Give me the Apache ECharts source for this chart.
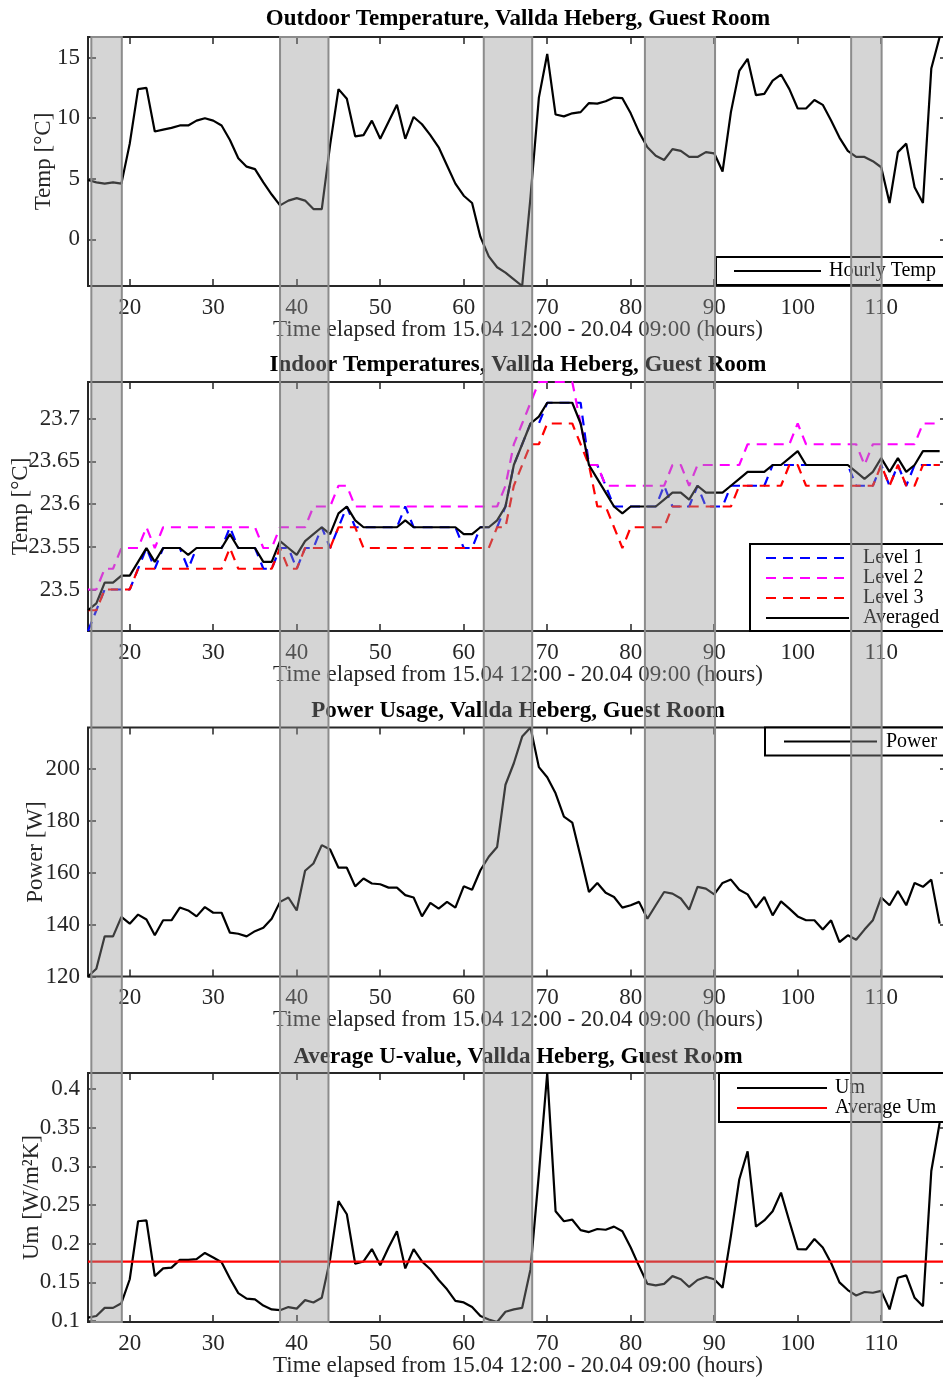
<!DOCTYPE html>
<html>
<head>
<meta charset="utf-8">
<script src="https://cdn.jsdelivr.net/npm/echarts@6/dist/echarts.min.js"></script>
<style>
  html, body { margin: 0; padding: 0; background: #fff; }
  #chart { width: 943px; height: 1382px; }
</style>
</head>
<body>
<div id="chart"></div>
<script>
// Hourly samples, hours elapsed since 15.04 12:00
const HOURS = Array.from({ length: 103 }, (_, i) => 15 + i);

const X_TICKS = [20, 30, 40, 50, 60, 70, 80, 90, 100, 110];
const X_NAME = 'Time elapsed from 15.04 12:00 - 20.04 09:00 (hours)';

// Outdoor temperature [°C]
const OUTDOOR_TEMP = [
  4.9, 4.7, 4.6, 4.7, 4.6, 7.9, 12.4, 12.5, 8.9, 9.05,
  9.2, 9.4, 9.4, 9.8, 10.0, 9.8, 9.4, 8.2, 6.7, 6.0,
  5.8, 4.7, 3.7, 2.8, 3.2, 3.4, 3.2, 2.5, 2.5, 7.8,
  12.4, 11.6, 8.5, 8.6, 9.8, 8.3, 9.7, 11.1, 8.3, 10.1,
  9.5, 8.6, 7.6, 6.1, 4.6, 3.6, 3.0, 0.2, -1.4, -2.3,
  -2.75, -3.3, -3.85, 3.5, 11.7, 15.3, 10.3, 10.15, 10.4, 10.5,
  11.25, 11.2, 11.4, 11.7, 11.65, 10.4, 8.85, 7.6, 6.9, 6.55,
  7.45, 7.3, 6.8, 6.8, 7.2, 7.1, 5.6, 10.5, 13.9, 14.9,
  11.9, 12.0, 13.1, 13.6, 12.4, 10.8, 10.8, 11.5, 11.1, 9.8,
  8.4, 7.3, 6.8, 6.8, 6.45, 5.95, 3.0, 7.2, 7.9, 4.3,
  3.0, 14.1, 16.7
];
const OUTDOOR_TICKS = [0, 5, 10, 15];

// Indoor temperatures [°C] per level
const LEVEL_1 = [
  23.4514, 23.4757, 23.5, 23.5, 23.5, 23.5, 23.5243, 23.5486, 23.5243, 23.5486,
  23.5486, 23.5486, 23.5243, 23.5486, 23.5486, 23.5486, 23.5486, 23.5729, 23.5486, 23.5486,
  23.5486, 23.5243, 23.5243, 23.5486, 23.5486, 23.5243, 23.5486, 23.5486, 23.5729, 23.5486,
  23.5729, 23.5972, 23.5729, 23.5729, 23.5729, 23.5729, 23.5729, 23.5729, 23.5972, 23.5729,
  23.5729, 23.5729, 23.5729, 23.5729, 23.5729, 23.5486, 23.5486, 23.5729, 23.5729, 23.5729,
  23.5972, 23.6458, 23.6701, 23.6944, 23.6944, 23.7187, 23.7187, 23.7187, 23.7187, 23.7187,
  23.6458, 23.6458, 23.6215, 23.5972, 23.5972, 23.5972, 23.5972, 23.5972, 23.5972, 23.6215,
  23.5972, 23.5972, 23.5972, 23.6215, 23.5972, 23.5972, 23.5972, 23.6215, 23.6215, 23.6215,
  23.6215, 23.6215, 23.6458, 23.6458, 23.6458, 23.6458, 23.6458, 23.6458, 23.6458, 23.6458,
  23.6458, 23.6458, 23.6215, 23.6215, 23.6215, 23.6458, 23.6215, 23.6458, 23.6215, 23.6458,
  23.6458, 23.6458, 23.6458
];
const LEVEL_2 = [
  23.5, 23.5, 23.5243, 23.5243, 23.5486, 23.5486, 23.5486, 23.5729, 23.5486, 23.5729,
  23.5729, 23.5729, 23.5729, 23.5729, 23.5729, 23.5729, 23.5729, 23.5729, 23.5729, 23.5729,
  23.5729, 23.5486, 23.5486, 23.5729, 23.5729, 23.5729, 23.5729, 23.5972, 23.5972, 23.5972,
  23.6215, 23.6215, 23.5972, 23.5972, 23.5972, 23.5972, 23.5972, 23.5972, 23.5972, 23.5972,
  23.5972, 23.5972, 23.5972, 23.5972, 23.5972, 23.5972, 23.5972, 23.5972, 23.5972, 23.5972,
  23.6215, 23.6701, 23.6944, 23.7187, 23.743, 23.743, 23.743, 23.743, 23.743, 23.6944,
  23.6458, 23.6458, 23.6215, 23.6215, 23.6215, 23.6215, 23.6215, 23.6215, 23.6215, 23.6215,
  23.6458, 23.6458, 23.6215, 23.6458, 23.6458, 23.6458, 23.6458, 23.6458, 23.6458, 23.6701,
  23.6701, 23.6701, 23.6701, 23.6701, 23.6701, 23.6944, 23.6701, 23.6701, 23.6701, 23.6701,
  23.6701, 23.6701, 23.6701, 23.6458, 23.6701, 23.6701, 23.6701, 23.6701, 23.6701, 23.6701,
  23.6944, 23.6944, 23.6944
];
const LEVEL_3 = [
  23.4757, 23.4757, 23.5, 23.5, 23.5, 23.5, 23.5243, 23.5243, 23.5243, 23.5243,
  23.5243, 23.5243, 23.5243, 23.5243, 23.5243, 23.5243, 23.5243, 23.5486, 23.5243, 23.5243,
  23.5243, 23.5243, 23.5243, 23.5486, 23.5243, 23.5243, 23.5486, 23.5486, 23.5486, 23.5486,
  23.5729, 23.5729, 23.5729, 23.5486, 23.5486, 23.5486, 23.5486, 23.5486, 23.5486, 23.5486,
  23.5486, 23.5486, 23.5486, 23.5486, 23.5486, 23.5486, 23.5486, 23.5486, 23.5486, 23.5729,
  23.5729, 23.6215, 23.6458, 23.6701, 23.6701, 23.6944, 23.6944, 23.6944, 23.6944, 23.6701,
  23.6458, 23.5972, 23.5972, 23.5729, 23.5486, 23.5729, 23.5729, 23.5729, 23.5729, 23.5729,
  23.5972, 23.5972, 23.5972, 23.5972, 23.5972, 23.5972, 23.5972, 23.5972, 23.6215, 23.6215,
  23.6215, 23.6215, 23.6215, 23.6215, 23.6458, 23.6458, 23.6215, 23.6215, 23.6215, 23.6215,
  23.6215, 23.6215, 23.6215, 23.6215, 23.6215, 23.6458, 23.6215, 23.6458, 23.6215, 23.6215,
  23.6458, 23.6458, 23.6458
];
const LEVEL_AVG = [
  23.4757, 23.4838, 23.5081, 23.5081, 23.5162, 23.5162, 23.5324, 23.5486, 23.5324, 23.5486,
  23.5486, 23.5486, 23.5405, 23.5486, 23.5486, 23.5486, 23.5486, 23.5648, 23.5486, 23.5486,
  23.5486, 23.5324, 23.5324, 23.5567, 23.5486, 23.5405, 23.5567, 23.5648, 23.5729, 23.5648,
  23.5891, 23.5972, 23.581, 23.5729, 23.5729, 23.5729, 23.5729, 23.5729, 23.581, 23.5729,
  23.5729, 23.5729, 23.5729, 23.5729, 23.5729, 23.5648, 23.5648, 23.5729, 23.5729, 23.581,
  23.5972, 23.6458, 23.6701, 23.6944, 23.7025, 23.7187, 23.7187, 23.7187, 23.7187, 23.6944,
  23.6458, 23.6296, 23.6134, 23.5972, 23.5891, 23.5972, 23.5972, 23.5972, 23.5972, 23.6053,
  23.6134, 23.6134, 23.6053, 23.6215, 23.6134, 23.6134, 23.6134, 23.6215, 23.6296, 23.6377,
  23.6377, 23.6377, 23.6458, 23.6458, 23.6539, 23.662, 23.6458, 23.6458, 23.6458, 23.6458,
  23.6458, 23.6458, 23.6377, 23.6296, 23.6377, 23.6539, 23.6377, 23.6539, 23.6377, 23.6458,
  23.662, 23.662, 23.662
];
const INDOOR_TICKS = [23.5, 23.55, 23.6, 23.65, 23.7];

// Heating power [W]
const POWER = [
  120, 123, 135.5, 135.5, 143, 140.4, 143.9, 142, 135.9, 141.7,
  141.7, 146.6, 145.5, 143.2, 146.8, 144.6, 144.6, 136.9, 136.5, 135.5,
  137.5, 138.8, 142.3, 148.8, 150.5, 145.5, 160.8, 163.6, 170.7, 169,
  162, 162, 154.8, 157.8, 155.9, 155.6, 154.3, 154.3, 151.4, 150.5,
  143.2, 148.4, 146.2, 148.8, 146.6, 154.8, 153.5, 161, 166.2, 170,
  194, 202.3, 212.6, 216.1, 200.8, 196.9, 190.7, 181.7, 179.4, 166.2,
  152.6, 156.1, 152.3, 150.7, 146.6, 147.5, 148.8, 142.3, 147.5, 152.6,
  152, 150.1, 145.8, 154.6, 153.9, 151.7, 156.1, 157.4, 153.5, 151.7,
  146.6, 150.7, 143.6, 149, 146.2, 143.2, 141.7, 141.7, 138.1, 141.7,
  133.3, 135.9, 134.2, 138.1, 141.7, 150.5, 147.5, 153, 147.5, 156.1,
  154.6, 157.4, 140.4
];
const POWER_TICKS = [120, 140, 160, 180, 200];

// Average U-value [W/m²K]
const UM = [
  0.1043, 0.1065, 0.117, 0.117, 0.123, 0.154, 0.229, 0.230, 0.158, 0.168,
  0.169, 0.179, 0.179, 0.180, 0.188, 0.182, 0.176, 0.155, 0.136, 0.129,
  0.128, 0.120, 0.115, 0.114, 0.118, 0.116, 0.127, 0.124, 0.130, 0.180,
  0.255, 0.238, 0.174, 0.177, 0.193, 0.172, 0.195, 0.216, 0.168, 0.193,
  0.177, 0.167, 0.153, 0.141, 0.126, 0.124, 0.118, 0.1065, 0.102, 0.0987,
  0.112, 0.115, 0.117, 0.167, 0.29, 0.4207, 0.242, 0.229, 0.231, 0.2175,
  0.215, 0.219, 0.218, 0.222, 0.216, 0.195, 0.171, 0.148, 0.146, 0.148,
  0.158, 0.154, 0.144, 0.153, 0.157, 0.154, 0.143, 0.21, 0.283, 0.3195,
  0.222, 0.230, 0.242, 0.266, 0.229, 0.193, 0.1925, 0.206, 0.195, 0.175,
  0.150, 0.140, 0.133, 0.1375, 0.1365, 0.139, 0.115, 0.156, 0.159, 0.130,
  0.119, 0.294, 0.356
];
const AVERAGE_UM = 0.1767;
const UM_TICKS = [0.1, 0.15, 0.2, 0.25, 0.3, 0.35, 0.4];

// Shaded periods [start hour, end hour]
const SHADED_PERIODS = [
  [15.4, 19.05],
  [38.0, 43.8],
  [62.4, 68.2],
  [81.7, 90.1],
  [106.4, 110.05]
];

const X_MIN = 15, X_MAX = 118;
const FONT = 'Liberation Serif';
const AXIS_COLOR = '#262626';
const GRID_LEFT = 88, GRID_WIDTH = 860, GRID_HEIGHT = 249;
const PANEL_TOPS = [37, 382, 727.5, 1073];

const pairs = (vals) => HOURS.map((h, i) => [h, vals[i]]);
const minOf = (...arrs) => Math.min(...arrs.flat());
const maxOf = (...arrs) => Math.max(...arrs.flat());

const tickLabelStyle = { fontFamily: FONT, fontSize: 23, color: AXIS_COLOR };
const nameStyle = { fontFamily: FONT, fontSize: 23, color: AXIS_COLOR };

const grids = PANEL_TOPS.map(top => ({
  left: GRID_LEFT, top: top, width: GRID_WIDTH, height: GRID_HEIGHT,
  outerBoundsMode: 'none', containLabel: false,
  show: true, borderColor: AXIS_COLOR, borderWidth: 2, backgroundColor: 'transparent'
}));
// full-height strip for the shaded periods
grids.push({ left: GRID_LEFT, top: PANEL_TOPS[0], width: GRID_WIDTH,
  height: PANEL_TOPS[3] + GRID_HEIGHT - PANEL_TOPS[0], outerBoundsMode: 'none', show: false });

const xAxes = [];
const yAxes = [];
const panels = [
  { yMin: minOf(OUTDOOR_TEMP), yMax: maxOf(OUTDOOR_TEMP), ticks: OUTDOOR_TICKS, name: 'Temp [°C]', gap: 33 },
  { yMin: minOf(LEVEL_1, LEVEL_2, LEVEL_3, LEVEL_AVG), yMax: maxOf(LEVEL_1, LEVEL_2, LEVEL_3, LEVEL_AVG), ticks: INDOOR_TICKS, name: 'Temp [°C]', gap: 56 },
  { yMin: minOf(POWER), yMax: maxOf(POWER), ticks: POWER_TICKS, name: 'Power [W]', gap: 41 },
  { yMin: minOf(UM), yMax: maxOf(UM), ticks: UM_TICKS, name: 'Um [W/m²K]', gap: 45 }
];

const tickStyle = (vals, len) => ({
  show: true, inside: true, length: len, customValues: vals,
  lineStyle: { color: AXIS_COLOR, width: 1.5 }
});

panels.forEach((p, i) => {
  xAxes.push({
    gridIndex: i, type: 'value', min: X_MIN, max: X_MAX, position: 'bottom',
    axisLine: { show: false, onZero: false }, splitLine: { show: false },
    axisTick: tickStyle(X_TICKS, 7),
    axisLabel: { show: true, customValues: X_TICKS, margin: 10, ...tickLabelStyle },
    name: X_NAME, nameLocation: 'middle', nameGap: 32, nameMoveOverlap: false, nameTextStyle: nameStyle
  });
  xAxes.push({
    gridIndex: i, type: 'value', min: X_MIN, max: X_MAX, position: 'top',
    axisLine: { show: false, onZero: false }, splitLine: { show: false },
    axisTick: tickStyle(X_TICKS, 7),
    axisLabel: { show: false }
  });
  yAxes.push({
    gridIndex: i, type: 'value', min: p.yMin, max: p.yMax, position: 'left',
    axisLine: { show: false, onZero: false }, splitLine: { show: false },
    axisTick: tickStyle(p.ticks, 8),
    axisLabel: { show: true, customValues: p.ticks, margin: 8, ...tickLabelStyle },
    name: p.name, nameLocation: 'middle', nameGap: p.gap, nameMoveOverlap: false, nameTextStyle: nameStyle
  });
  yAxes.push({
    gridIndex: i, type: 'value', min: p.yMin, max: p.yMax, position: 'right',
    axisLine: { show: false, onZero: false }, splitLine: { show: false },
    axisTick: tickStyle(p.ticks, 8),
    axisLabel: { show: false }
  });
});
xAxes.push({ gridIndex: 4, type: 'value', min: X_MIN, max: X_MAX, show: false });
yAxes.push({ gridIndex: 4, type: 'value', min: 0, max: 1, show: false });

const lineSeries = (name, panel, vals, color, dashed) => ({
  name: name, type: 'line', xAxisIndex: panel * 2, yAxisIndex: panel * 2,
  data: pairs(vals), symbol: 'none', showSymbol: false,
  lineStyle: { color: color, width: 2.2, type: dashed ? [10, 7] : 'solid' },
  itemStyle: { color: color },
  emphasis: { disabled: true }
});

const legendBase = {
  orient: 'vertical', itemGap: 0, itemHeight: 14, selectedMode: false,
  backgroundColor: '#fff', borderColor: '#000', borderWidth: 2, borderRadius: 0,
  itemStyle: { opacity: 0 },
  textStyle: { fontFamily: FONT, fontSize: 20, lineHeight: 20, color: '#000' }
};

const titleStyle = { fontFamily: FONT, fontSize: 23, fontWeight: 'bold', color: '#000' };
const TITLE_X = GRID_LEFT + GRID_WIDTH / 2;

const option = {
  animation: false,
  backgroundColor: '#fff',
  title: [
    { text: 'Outdoor Temperature, Vallda Heberg, Guest Room', top: 8, left: TITLE_X, textAlign: 'center', padding: 0, textStyle: titleStyle },
    { text: 'Indoor Temperatures, Vallda Heberg, Guest Room', top: 354, left: TITLE_X, textAlign: 'center', padding: 0, textStyle: titleStyle },
    { text: 'Power Usage, Vallda Heberg, Guest Room', top: 700, left: TITLE_X, textAlign: 'center', padding: 0, textStyle: titleStyle },
    { text: 'Average U-value, Vallda Heberg, Guest Room', top: 1046, left: TITLE_X, textAlign: 'center', padding: 0, textStyle: titleStyle }
  ],
  legend: [
    { ...legendBase, data: ['Hourly Temp'], left: 716, top: 257, padding: [4, 10, 4, 17], itemWidth: 87,
      textStyle: { ...legendBase.textStyle, padding: [0, 0, 0, 3] } },
    { ...legendBase, data: ['Level 1', 'Level 2', 'Level 3', 'Averaged'], left: 750, top: 544, padding: [4, 10, 3, 15], itemWidth: 83,
      textStyle: { ...legendBase.textStyle, padding: [0, 0, 0, 9] } },
    { ...legendBase, data: ['Power'], left: 765, top: 727.5, padding: [4, 10, 4, 18], itemWidth: 93,
      textStyle: { ...legendBase.textStyle, padding: [0, 0, 0, 4] } },
    { ...legendBase, data: ['Um', 'Average Um'], left: 719, top: 1073, padding: [5, 10, 4, 17], itemWidth: 90,
      textStyle: { ...legendBase.textStyle, padding: [0, 0, 0, 3] } }
  ],
  grid: grids,
  xAxis: xAxes,
  yAxis: yAxes,
  series: [
    lineSeries('Hourly Temp', 0, OUTDOOR_TEMP, '#000000', false),
    lineSeries('Level 1', 1, LEVEL_1, '#0000ff', true),
    lineSeries('Level 2', 1, LEVEL_2, '#ff00ff', true),
    lineSeries('Level 3', 1, LEVEL_3, '#ff0000', true),
    lineSeries('Averaged', 1, LEVEL_AVG, '#000000', false),
    lineSeries('Power', 2, POWER, '#000000', false),
    lineSeries('Um', 3, UM, '#000000', false),
    {
      name: 'Average Um', type: 'line', xAxisIndex: 6, yAxisIndex: 6,
      data: [[X_MIN, AVERAGE_UM], [X_MAX, AVERAGE_UM]], symbol: 'none',
      lineStyle: { color: '#ff0000', width: 2.2 }, itemStyle: { color: '#ff0000' },
      emphasis: { disabled: true }
    },
    {
      name: 'Shaded periods', type: 'custom', xAxisIndex: 8, yAxisIndex: 8,
      data: SHADED_PERIODS, encode: { x: [0, 1] }, z: 20, silent: true, clip: false,
      renderItem: (params, api) => {
        const a = api.coord([api.value(0), 1]);
        const b = api.coord([api.value(1), 0]);
        return {
          type: 'rect',
          shape: { x: a[0], y: a[1], width: b[0] - a[0], height: b[1] - a[1] },
          style: { fill: 'rgba(150,150,150,0.4)', stroke: '#8c8c8c', lineWidth: 2 }
        };
      }
    }
  ]
};

const chart = echarts.init(document.getElementById('chart'), null, { renderer: 'canvas' });
chart.setOption(option);
</script>
</body>
</html>
